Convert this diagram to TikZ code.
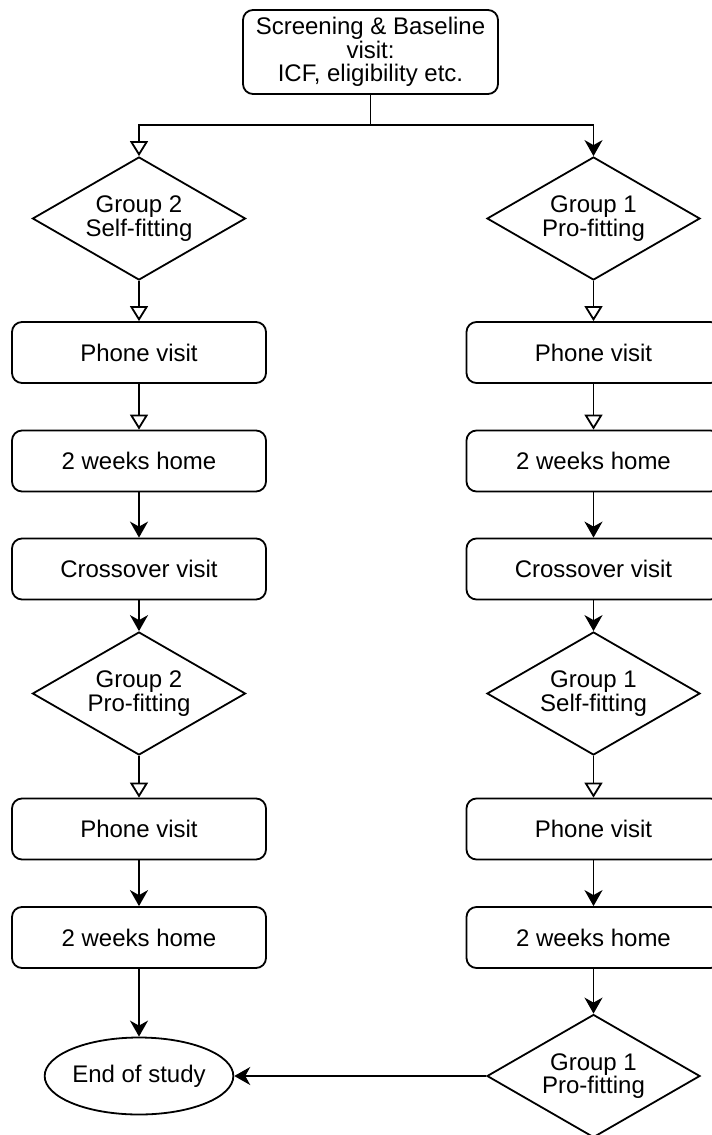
\documentclass[tikz,border=0pt]{standalone}
\usepackage{fontspec}
\setmainfont{Liberation Sans}
\usetikzlibrary{arrows.meta,shapes.geometric}

\tikzset{
  stagebox/.style={draw, rounded corners=5pt, minimum width=127pt, minimum height=30.5pt, align=center},
  groupdia/.style={draw, diamond, aspect=2, inner sep=0pt, minimum width=106.5pt, minimum height=61.5pt, align=center},
  endell/.style={draw, ellipse, minimum width=89pt, minimum height=38.5pt, inner sep=0pt},
  hollow/.style={-{Triangle[open, length=7.5pt, width=9pt]}},
  solid/.style={-{Stealth[length=8pt, width=9pt, inset=2.5pt]}}
}

\begin{document}
\begin{tikzpicture}[x=0.5pt, y=-0.5pt, line width=0.9pt, font=\fontsize{12}{11.75}\selectfont]
\useasboundingbox (0,0) rectangle (712,1135);

% start
\node[stagebox, minimum width=127.5pt, minimum height=42pt] (start) at (370.5,52) {Screening \& Baseline\\visit:\\ICF, eligibility etc.};
\coordinate (split) at (370.5,125);

% group 2 (left)
\node[groupdia] (g2self) at (139,218.5) {Group 2\\Self-fitting};
\node[stagebox] (ph2a) at (139,352.5) {Phone visit};
\node[stagebox] (hm2a) at (139,461) {2 weeks home};
\node[stagebox] (cx2) at (139,569) {Crossover visit};
\node[groupdia] (g2pro) at (139,693.5) {Group 2\\Pro-fitting};
\node[stagebox] (ph2b) at (139,829) {Phone visit};
\node[stagebox] (hm2b) at (139,937.5) {2 weeks home};
\node[endell] (eos) at (139,1076) {End of study};

% group 1 (right)
\node[groupdia] (g1pro) at (593.5,218.5) {Group 1\\Pro-fitting};
\node[stagebox] (ph1a) at (593.5,352.5) {Phone visit};
\node[stagebox] (hm1a) at (593.5,461) {2 weeks home};
\node[stagebox] (cx1) at (593.5,569) {Crossover visit};
\node[groupdia] (g1self) at (593.5,693.5) {Group 1\\Self-fitting};
\node[stagebox] (ph1b) at (593.5,829) {Phone visit};
\node[stagebox] (hm1b) at (593.5,937.5) {2 weeks home};
\node[groupdia] (g1pro2) at (593.5,1076) {Group 1\\Pro-fitting};

% connectors
\draw (start) -- (split);
\draw[hollow] (split) -| (g2self.north);
\draw[solid] (split) -| (g1pro.north);

\draw[hollow] (g2self) -- (ph2a);
\draw[hollow] (ph2a) -- (hm2a);
\draw[solid] (hm2a) -- (cx2);
\draw[solid] (cx2) -- (g2pro.north);
\draw[hollow] (g2pro) -- (ph2b);
\draw[solid] (ph2b) -- (hm2b);
\draw[solid] (hm2b) -- (eos);

\draw[hollow] (g1pro) -- (ph1a);
\draw[hollow] (ph1a) -- (hm1a);
\draw[solid] (hm1a) -- (cx1);
\draw[solid] (cx1) -- (g1self.north);
\draw[hollow] (g1self) -- (ph1b);
\draw[solid] (ph1b) -- (hm1b);
\draw[solid] (hm1b) -- (g1pro2.north);
\draw[solid] (g1pro2.west) -- (eos);
\end{tikzpicture}
\end{document}
